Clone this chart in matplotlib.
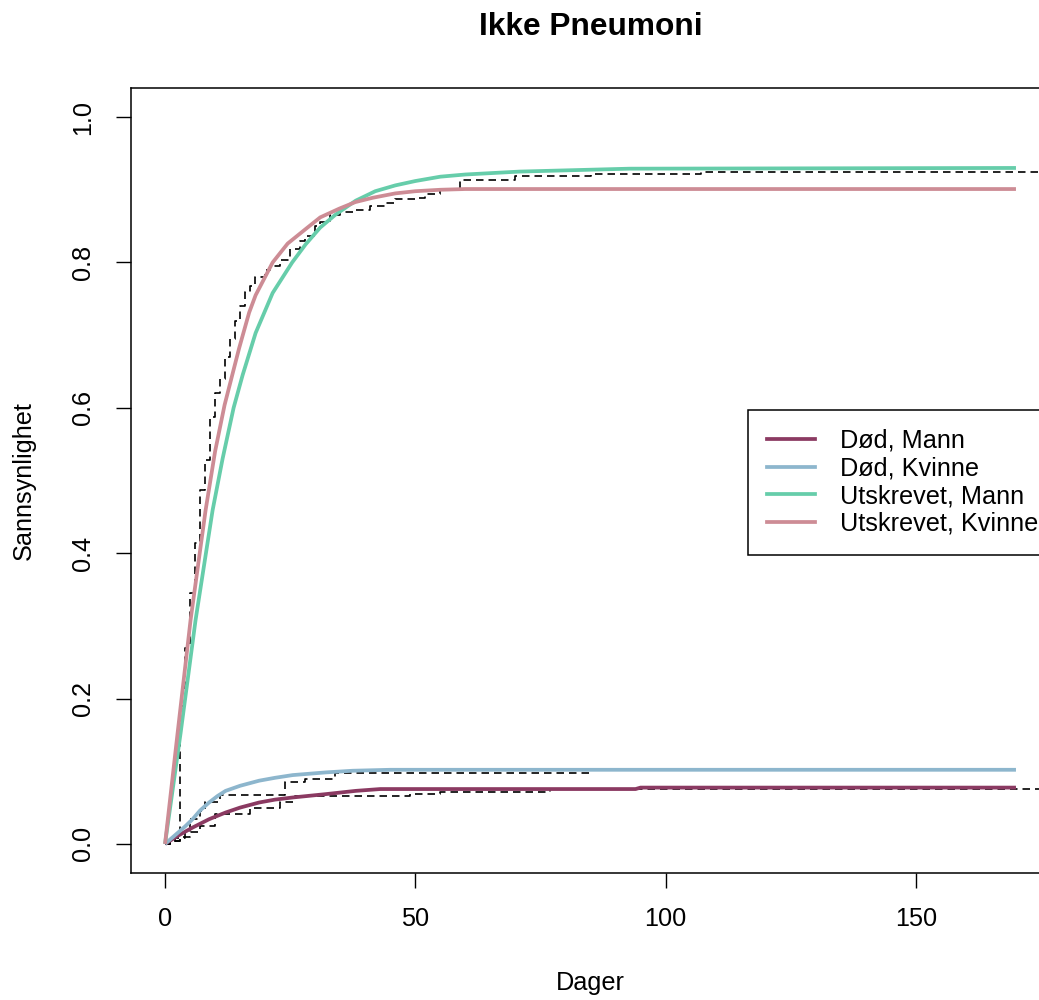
import matplotlib
matplotlib.use("Agg")
import matplotlib.pyplot as plt
from matplotlib.lines import Line2D

plt.rcParams['font.family'] = ['Liberation Sans', 'DejaVu Sans']

# ---------------- data ----------------
title = "Ikke Pneumoni"
xlabel = "Dager"
ylabel = "Sannsynlighet"
series_labels = ["Død, Mann", "Død, Kvinne", "Utskrevet, Mann", "Utskrevet, Kvinne"]
series_colors = ["#8B3A62", "#8DB6CD", "#66CDAA", "#CD8C95"]

# fitted (smooth) cumulative incidence curves
fit_days_dm = [0, 2.5, 5.5, 8.8, 12.1, 15, 18.8, 22, 25.5, 32.1, 38.1, 43, 94, 95, 170]
fit_dm = [0, 0.011, 0.0225, 0.034, 0.0432, 0.050, 0.057, 0.061, 0.0639, 0.0685, 0.073, 0.0755,
          0.0755, 0.0775, 0.0775]

fit_days_dk = [0, 2, 4, 5.5, 7, 8.8, 10.5, 12.1, 15, 18.8, 22, 25.5, 32.1, 37.5, 45, 170]
fit_dk = [0, 0.012, 0.024, 0.034, 0.046, 0.057, 0.066, 0.073, 0.080, 0.087, 0.091, 0.0947,
          0.0984, 0.1007, 0.102, 0.102]

fit_days_um = [0, 3.1, 6.1, 9.5, 11.5, 13.7, 15.5, 18.1, 21.5, 25.4, 28.1, 31, 34.1, 38.1, 42,
               46, 50, 55, 60, 70.8, 92.8, 170]
fit_um = [0, 0.152, 0.308, 0.459, 0.53, 0.600, 0.645, 0.703, 0.758, 0.800, 0.825, 0.848, 0.866,
          0.885, 0.898, 0.906, 0.912, 0.918, 0.921, 0.925, 0.929, 0.930]

fit_days_uk = [0, 2.5, 5.1, 8.1, 10, 11.9, 14.8, 16.8, 18.1, 21.5, 24.5, 28.1, 31, 34.8, 38,
               41.5, 46, 50, 55, 60, 170]
fit_uk = [0, 0.152, 0.308, 0.459, 0.54, 0.604, 0.682, 0.731, 0.755, 0.800, 0.826, 0.846, 0.862,
          0.874, 0.883, 0.889, 0.895, 0.898, 0.900, 0.901, 0.901]

# empirical (step) cumulative incidence curves, dashed
emp_days_u = [0, 1, 3, 4, 5, 6, 7, 8, 9, 10, 11, 12, 13, 14, 15, 16, 17, 18, 20, 21, 23, 25, 27, 28,
              30, 31, 33, 35, 38, 41, 44, 46, 50, 52, 55, 59, 70, 85, 107, 182]
emp_u = [0, 0.004, 0.19, 0.27, 0.345, 0.414, 0.487, 0.528, 0.588, 0.62, 0.64, 0.67, 0.694, 0.72, 0.74,
         0.76, 0.767, 0.78, 0.79, 0.795, 0.804, 0.818, 0.83, 0.836, 0.85, 0.855, 0.865, 0.869, 0.872,
         0.878, 0.882, 0.887, 0.889, 0.894, 0.90, 0.913, 0.919, 0.921, 0.924, 0.924]

emp_days_dk = [0, 1, 3, 5, 7, 8, 11, 24, 28, 34, 85]
emp_dk = [0, 0.004, 0.009, 0.034, 0.045, 0.057, 0.068, 0.085, 0.090, 0.098, 0.098]

emp_days_dm = [0, 1, 2, 4, 7, 10, 17, 23, 26, 49, 55, 62, 77, 182]
emp_dm = [0, 0.004, 0.008, 0.016, 0.025, 0.041, 0.050, 0.058, 0.066, 0.0685, 0.071, 0.072, 0.076, 0.076]

x_ticks = [0, 50, 100, 150]
y_ticks = [0.0, 0.2, 0.4, 0.6, 0.8, 1.0]
y_ticklabels = ["0.0", "0.2", "0.4", "0.6", "0.8", "1.0"]

# ---------------- figure ----------------
W, H = 1039, 1000
fig = plt.figure(figsize=(W / 100, H / 100), dpi=100)
ax_l, ax_r, ax_t, ax_b = 131, 1050, 88, 873
ax = fig.add_axes([ax_l / W, 1 - ax_b / H, (ax_r - ax_l) / W, (ax_b - ax_t) / H])
ax.set_xlim(-6.8, 176.8)
ax.set_ylim(-0.04, 1.04)

FS = 18.2
dash_style = (0, (4.5, 3.0))
for d, v in [(emp_days_u, emp_u), (emp_days_dk, emp_dk), (emp_days_dm, emp_dm)]:
    ax.plot(d, v, color="black", lw=1.2, linestyle=dash_style, drawstyle="steps-post", zorder=2)

fits = [(fit_days_dm, fit_dm), (fit_days_dk, fit_dk), (fit_days_um, fit_um), (fit_days_uk, fit_uk)]
for (d, v), c in zip(fits, series_colors):
    ax.plot(d, v, color=c, lw=2.7, solid_capstyle="butt", solid_joinstyle="round", zorder=3)

for s in ax.spines.values():
    s.set_linewidth(1.1)
    s.set_color("black")

ax.set_xticks(x_ticks)
ax.set_xticklabels([str(t) for t in x_ticks])
ax.set_yticks(y_ticks)
ax.set_yticklabels(y_ticklabels, rotation=90, va="center")
ax.tick_params(axis="both", direction="out", length=10.8, width=1.0, labelsize=FS,
               colors="black", top=False, right=False)
ax.tick_params(axis="x", pad=14)
ax.tick_params(axis="y", pad=15)

fig.text((ax_l + ax_r) / 2 / W, 1 - 983 / H, xlabel, ha="center", va="center", fontsize=FS)
fig.text(24 / W, 1 - 480.5 / H, ylabel, ha="center", va="center", rotation=90, fontsize=FS)
fig.text((ax_l + ax_r) / 2 / W, 1 - 27 / H, title, ha="center", va="center",
         fontsize=22.8, fontweight="bold")

handles = [Line2D([], [], color=c, lw=2.7) for c in series_colors]
leg = ax.legend(handles, series_labels, loc="upper left",
                bbox_to_anchor=(748 / W, 1 - 410 / H), bbox_transform=fig.transFigure,
                borderaxespad=0, fontsize=FS, handlelength=1.9, handletextpad=1.0,
                borderpad=0.75, labelspacing=0.14, fancybox=False, framealpha=1,
                edgecolor="black")
leg.get_frame().set_linewidth(1.1)

fig.savefig("out.png", dpi=100)
